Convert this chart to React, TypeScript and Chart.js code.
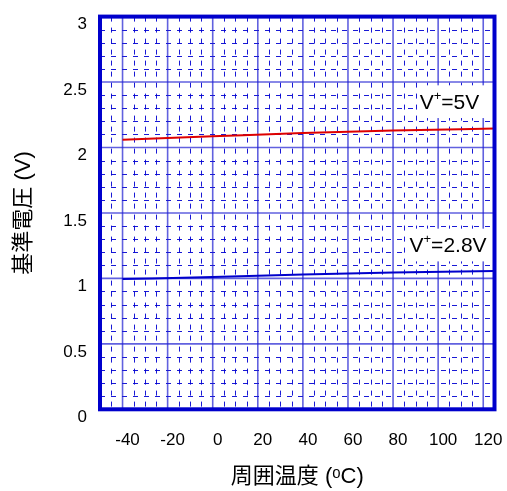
import { useEffect, useRef } from 'react';
import { Chart, registerables } from 'chart.js';

Chart.register(...registerables);

// ---- data ----
const temperatures = [-40, 0, 40, 80, 125];
const vref5V = [2.06, 2.085, 2.11, 2.13, 2.145];
const vref28V = [0.995, 1.01, 1.03, 1.045, 1.056];
const xTickValues = [-40, -20, 0, 20, 40, 60, 80, 100, 120];
const yTickValues = [0, 0.5, 1, 1.5, 2, 2.5, 3];
const seriesLabels = ['5V', '2.8V'];

const FONT = "'Liberation Sans', Arial, 'Noto Sans CJK JP', sans-serif";
const BLUE = '#0000cc';

function minorValues(min: number, max: number, step: number, majorStep: number) {
  const out: number[] = [];
  const n = Math.round((max - min) / step);
  for (let i = 0; i <= n; i++) {
    const v = +(min + i * step).toFixed(4);
    const r = v / majorStep;
    if (Math.abs(r - Math.round(r)) > 1e-6) out.push(v);
  }
  return out;
}

const gridPlugin = {
  id: 'customGrid',
  beforeDatasetsDraw(chart: any) {
    const { ctx, chartArea: a, scales } = chart;
    const x = scales.x;
    const y = scales.y;
    ctx.save();
    // minor dashed grid
    ctx.setLineDash([5, 6]);
    ctx.strokeStyle = 'rgba(0,0,210,0.9)';
    ctx.lineWidth = 1;
    for (const v of minorValues(-50, 125, 5, 20)) {
      const px = Math.round(x.getPixelForValue(v)) + 0.5;
      ctx.beginPath(); ctx.moveTo(px, a.top); ctx.lineTo(px, a.bottom); ctx.stroke();
    }
    for (const v of minorValues(0, 3, 0.1, 0.5)) {
      const py = Math.round(y.getPixelForValue(v)) + 0.5;
      ctx.beginPath(); ctx.moveTo(a.left, py); ctx.lineTo(a.right, py); ctx.stroke();
    }
    // major solid grid
    ctx.setLineDash([]);
    ctx.strokeStyle = 'rgba(30,30,210,0.7)';
    ctx.lineWidth = 1.6;
    for (const v of xTickValues) {
      const px = x.getPixelForValue(v);
      ctx.beginPath(); ctx.moveTo(px, a.top); ctx.lineTo(px, a.bottom); ctx.stroke();
    }
    for (const v of yTickValues) {
      const py = y.getPixelForValue(v);
      ctx.beginPath(); ctx.moveTo(a.left, py); ctx.lineTo(a.right, py); ctx.stroke();
    }
    // label boxes (white)
    ctx.fillStyle = '#ffffff';
    const b1x = x.getPixelForValue(91);
    const b1t = y.getPixelForValue(2.475);
    const b1b = y.getPixelForValue(2.225);
    ctx.fillRect(b1x, b1t, a.right - b1x, b1b - b1t);
    const b2x = x.getPixelForValue(86.5);
    const b2t = y.getPixelForValue(1.38);
    const b2b = y.getPixelForValue(1.13);
    ctx.fillRect(b2x, b2t, a.right - b2x, b2b - b2t);
    ctx.restore();
  },
  afterDatasetsDraw(chart: any) {
    const { ctx, chartArea: a, scales } = chart;
    const x = scales.x;
    const y = scales.y;
    ctx.save();
    const drawLabel = (rest: string, xv: number, yv: number) => {
      let px = x.getPixelForValue(xv);
      const py = y.getPixelForValue(yv);
      ctx.fillStyle = '#000';
      ctx.textBaseline = 'middle';
      ctx.textAlign = 'left';
      ctx.font = `21px ${FONT}`;
      ctx.fillText('V', px, py);
      px += ctx.measureText('V').width;
      ctx.font = `13px ${FONT}`;
      ctx.fillText('+', px, py - 7);
      px += ctx.measureText('+').width;
      ctx.font = `21px ${FONT}`;
      ctx.fillText('=' + rest, px, py);
    };
    drawLabel(seriesLabels[0], 91.8, 2.34);
    drawLabel(seriesLabels[1], 87.3, 1.248);
    // thick border
    ctx.strokeStyle = BLUE;
    ctx.lineWidth = 4;
    ctx.strokeRect(a.left, a.top, a.right - a.left, a.bottom - a.top);
    ctx.restore();
  },
};

const zeroPad = (s: any) => {
  s.paddingLeft = 0;
  s.paddingRight = 0;
  s.paddingTop = 0;
  s.paddingBottom = 0;
};

export default function App() {
  const ref = useRef<HTMLCanvasElement | null>(null);
  useEffect(() => {
    if (!ref.current) return;
    const toPts = (ys: number[]) => temperatures.map((t, i) => ({ x: t, y: ys[i] }));
    const chart = new Chart(ref.current, {
      type: 'line',
      data: {
        datasets: [
          {
            label: 'V+=' + seriesLabels[0],
            data: toPts(vref5V),
            borderColor: '#dd0000',
            borderWidth: 2,
            pointRadius: 0,
            cubicInterpolationMode: 'monotone',
          },
          {
            label: 'V+=' + seriesLabels[1],
            data: toPts(vref28V),
            borderColor: BLUE,
            borderWidth: 2,
            pointRadius: 0,
            cubicInterpolationMode: 'monotone',
          },
        ],
      },
      options: {
        animation: false,
        responsive: false,
        devicePixelRatio: 1,
        events: [],
        layout: { autoPadding: false, padding: { left: 0, top: 16.6, right: 12.5, bottom: 0 } },
        plugins: { legend: { display: false }, tooltip: { enabled: false } },
        scales: {
          x: {
            type: 'linear',
            min: -50,
            max: 125,
            afterBuildTicks: (s: any) => { s.ticks = xTickValues.map((v) => ({ value: v })); },
            afterFit: (s: any) => { s.height = 491 - 409.3; zeroPad(s); },
            grid: { display: false, drawTicks: false },
            border: { display: false },
            ticks: {
              autoSkip: false,
              maxRotation: 0,
              padding: 21,
              labelOffset: 5,
              color: '#000',
              font: { family: FONT, size: 17 },
              callback: (v: any) => String(v),
            },
            title: {
              display: true,
              text: '周囲温度 (ᵒC)',
              color: '#000',
              font: { family: FONT, size: 22 },
              padding: { top: 0, bottom: 1 },
            },
          },
          y: {
            type: 'linear',
            min: 0,
            max: 3,
            afterBuildTicks: (s: any) => { s.ticks = yTickValues.map((v) => ({ value: v })); },
            afterFit: (s: any) => { s.width = 100; zeroPad(s); },
            grid: { display: false, drawTicks: false },
            border: { display: false },
            ticks: {
              autoSkip: false,
              padding: 13,
              labelOffset: 8,
              color: '#000',
              font: { family: FONT, size: 17 },
              callback: (v: any) => String(v),
            },
            title: {
              display: true,
              text: '基準電圧 (V)',
              color: '#000',
              font: { family: FONT, size: 22 },
              padding: { top: 11, bottom: 0 },
            },
          },
        },
      },
      plugins: [gridPlugin],
    } as any);
    return () => chart.destroy();
  }, []);
  return (
    <div style={{ position: 'absolute', left: 0, top: 0, width: 507, height: 491, background: '#fff' }}>
      <canvas ref={ref} width={507} height={491} style={{ display: 'block' }} />
    </div>
  );
}
